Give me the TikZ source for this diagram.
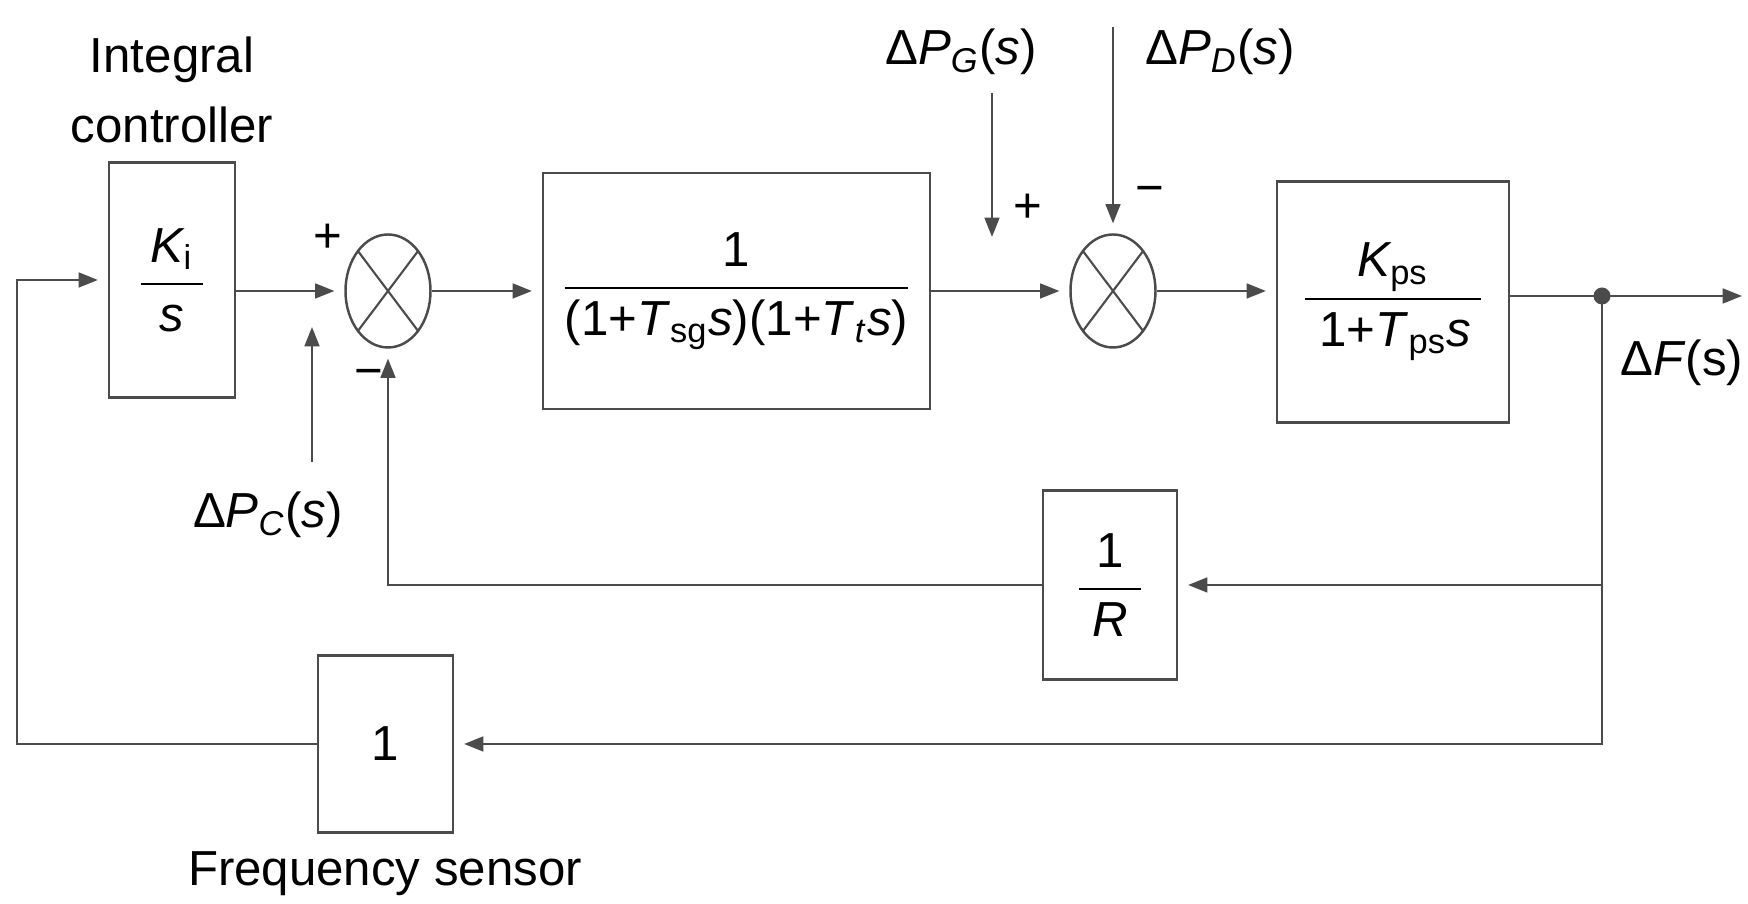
\documentclass[tikz,border=0pt]{standalone}
\usepackage{fontspec}
\usepackage{amsmath}
\setmainfont{Liberation Sans}
\usetikzlibrary{arrows.meta,shapes.geometric}
\definecolor{lineGray}{RGB}{75,75,75}

\begin{document}
\begin{tikzpicture}[
    font=\fontsize{14}{16}\selectfont,
    blockBox/.style={draw=lineGray,line width=0.7pt,rectangle,inner sep=0pt},
    sumNode/.style={draw=lineGray,line width=0.7pt,ellipse,inner sep=0pt,
      minimum width=0.85cm,minimum height=1.13cm,
      path picture={\draw[lineGray,line width=0.6pt]
        (path picture bounding box.north west) -- (path picture bounding box.south east)
        (path picture bounding box.south west) -- (path picture bounding box.north east);}},
    sigLine/.style={draw=lineGray,line width=0.7pt},
    inArrow/.style={sigLine,-{Triangle[length=5.5pt,width=4.2pt]}},
    sigArrow/.style={inArrow,shorten >=2.8pt},
  ]
  \useasboundingbox (0,0) rectangle (17.48,9.04);

  % blocos
  \node[blockBox,minimum width=1.26cm,minimum height=2.35cm] (ki) at (1.72,6.24)
    {$\dfrac{\hspace{0.1cm}\textit{K}_{\text{i}}\hspace{0.1cm}}{\textit{s}}$};
  \node[blockBox,minimum width=3.87cm,minimum height=2.36cm] (gov) at (7.365,6.13)
    {$\dfrac{\text{1}}{\text{(1+\textit{T}\textsubscript{sg}\textit{s})(1+\textit{T}\textsubscript{\textit{t}}\textit{s})}}$};
  \node[blockBox,minimum width=2.32cm,minimum height=2.41cm] (gp) at (13.93,6.02)
    {$\dfrac{\textit{K}_{\text{ps}}}{\text{\hspace{0.15cm}1+\textit{T}\textsubscript{ps}\textit{s}\hspace{0.1cm}}}$};
  \node[blockBox,minimum width=1.34cm,minimum height=1.89cm] (droop) at (11.10,3.19)
    {$\dfrac{\text{1}}{\hspace{0.13cm}\textit{R}\hspace{0.13cm}}$};
  \node[blockBox,minimum width=1.35cm,minimum height=1.77cm] (fs) at (3.855,1.60) {1};

  % somadores
  \node[sumNode] (s1) at (3.88,6.13) {};
  \node[sumNode] (s2) at (11.13,6.13) {};

  % pontos auxiliares
  \coordinate (dot) at (16.02,6.08);
  \coordinate (out) at (17.42,6.08);
  \coordinate (lb) at (0.17,1.60);
  \coordinate (pgTop) at (9.92,8.11);
  \coordinate (pgEnd) at (9.92,6.67);
  \coordinate (pdTop) at (11.13,8.77);
  \coordinate (pcBot) at (3.12,4.42);
  \coordinate (pcEnd) at (3.12,5.77);

  % caminho direto
  \draw[sigArrow] (ki.east |- s1.west) -- (s1.west);
  \draw[sigArrow] (s1.east) -- (gov.west);
  \draw[sigArrow] (gov.east) -- (s2.west);
  \draw[sigArrow] (s2.east) -- (s2.east -| gp.west);
  \draw[sigLine] (gp.east |- dot) -- (dot);
  \draw[inArrow] (dot) -- (out);
  \fill[lineGray] (dot) circle (0.085);

  % realimentacao
  \draw[sigArrow] (dot) |- (droop.east);
  \draw[sigArrow] (droop.west) -| (s1.south);
  \draw[sigArrow] (dot) |- (fs.east);
  \draw[sigArrow] (fs.west) -- (lb) |- (ki.west);

  % entradas
  \draw[inArrow] (pcBot) -- (pcEnd);
  \draw[inArrow] (pgTop) -- (pgEnd);
  \draw[sigArrow] (pdTop) -- (s2.north);

  % textos
  \node[align=center,font=\fontsize{14}{19.9}\selectfont] (lblInt) at (1.72,8.14)
    {Integral\\controller};
  \node (lblFs) at (3.85,0.30) {Frequency sensor};
  \node (lblPc) at (2.68,3.89) {Δ\textit{P}\textsubscript{\textit{C}}(\textit{s})};
  \node (lblPg) at (9.61,8.52) {Δ\textit{P}\textsubscript{\textit{G}}(\textit{s})};
  \node (lblPd) at (12.20,8.52) {Δ\textit{P}\textsubscript{\textit{D}}(\textit{s})};
  \node (lblF) at (16.82,5.41) {Δ\textit{F}(s)};

  % sinais
  \node (sgA) at (3.28,6.66) {+};
  \node (sgB) at (3.69,5.26) {−};
  \node (sgC) at (10.28,6.96) {+};
  \node (sgD) at (11.50,7.09) {−};

\end{tikzpicture}
\end{document}
